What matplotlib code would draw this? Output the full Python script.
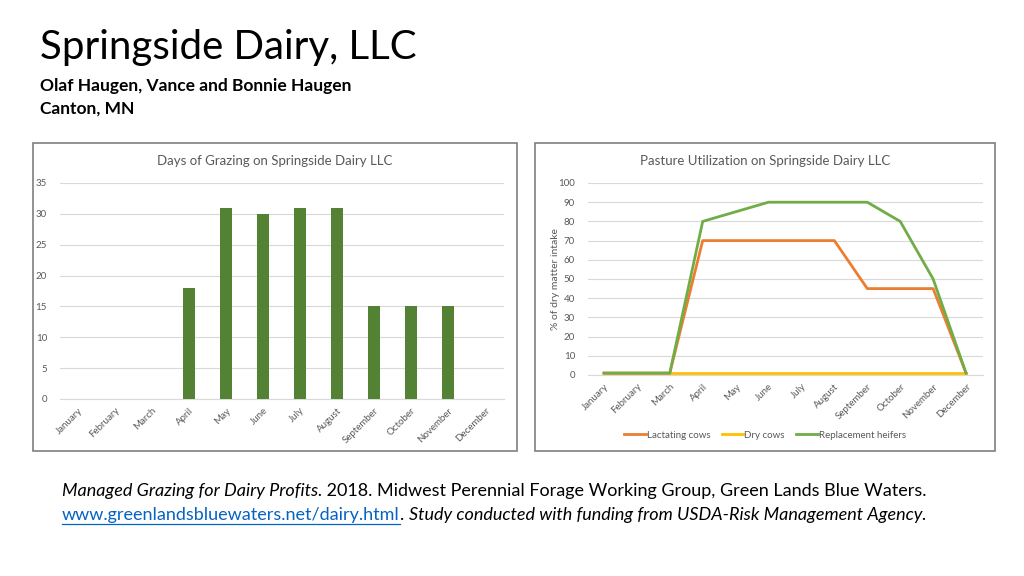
import numpy as np
import matplotlib
matplotlib.use("Agg")
import matplotlib.pyplot as plt
from matplotlib.patches import Rectangle

plt.rcParams['font.family'] = ['Lato', 'DejaVu Sans']

months = ["January", "February", "March", "April", "May", "June", "July",
          "August", "September", "October", "November", "December"]
grazing_days = [0, 0, 0, 18, 31, 30, 31, 31, 15, 15, 15, 0]
lactating = [1, 1, 1, 70, 70, 70, 70, 70, 45, 45, 45, 1]
dry_cows = [1, 1, 1, 1, 1, 1, 1, 1, 1, 1, 1, 1]
heifers = [1, 1, 1, 80, 85, 90, 90, 90, 90, 80, 50, 1]

W, H = 1024, 576
fig = plt.figure(figsize=(W / 100, H / 100), dpi=100)
fig.patch.set_facecolor("white")

def fx(px):
    return px / W

def fy(py):
    return 1 - py / H

# headline text
fig.text(fx(40), fy(47), "Springside Dairy, LLC", fontsize=29, color="black",
         va="center", ha="left")
fig.text(fx(40), fy(86), "Olaf Haugen, Vance and Bonnie Haugen", fontsize=12.5,
         fontweight="bold", va="center")
fig.text(fx(40), fy(109), "Canton, MN", fontsize=12.5, fontweight="bold", va="center")

# panel frames
for x0, x1 in [(33, 517), (535, 995)]:
    fig.patches.append(Rectangle((fx(x0), fy(451)), fx(x1 - x0), (451 - 143) / H,
                                 transform=fig.transFigure, fill=False,
                                 edgecolor="#7f7f7f", linewidth=1.2))

grid_c = "#d9d9d9"
tick_c = "#595959"
x = np.arange(len(months))

# left: bar chart
ax1 = fig.add_axes([fx(59.5), fy(399), fx(503.5 - 59.5), (399 - 183) / H])
ax1.bar(x, grazing_days, width=0.33, color="#548235", zorder=3)
ax1.set_xlim(-0.5, 11.5)
ax1.set_ylim(0, 35)
ax1.set_yticks(range(0, 36, 5))
ax1.yaxis.grid(True, color=grid_c, linewidth=0.8, zorder=0)
ax1.set_xticks(x)
ax1.set_xticklabels(months, rotation=45, ha="right", rotation_mode="anchor")
fig.text(fx(275), fy(161), "Days of Grazing on Springside Dairy LLC", fontsize=9.5,
         color=tick_c, ha="center", va="center")

# right: line chart
ax2 = fig.add_axes([fx(587.5), fy(375), fx(982.5 - 587.5), (375 - 183) / H])
ax2.plot(x, dry_cows, color="#ffc000", linewidth=2, label="Dry cows", zorder=3)
ax2.plot(x, lactating, color="#ed7d31", linewidth=2, label="Lactating cows", zorder=4)
ax2.plot(x, heifers, color="#70ad47", linewidth=2, label="Replacement heifers", zorder=5)
ax2.set_xlim(-0.5, 11.5)
ax2.set_ylim(0, 100)
ax2.set_yticks(range(0, 101, 10))
ax2.yaxis.grid(True, color=grid_c, linewidth=0.8, zorder=0)
ax2.set_xticks(x)
ax2.set_xticklabels(months, rotation=45, ha="right", rotation_mode="anchor")
ax2.set_ylabel("% of dry matter intake", fontsize=7.5, color=tick_c)
ax2.yaxis.set_label_coords((560 - 587.5) / 395, 0.5)
fig.text(fx(765), fy(161), "Pasture Utilization on Springside Dairy LLC", fontsize=9.5,
         color=tick_c, ha="center", va="center")
handles, labels = ax2.get_legend_handles_labels()
order = [1, 0, 2]
fig.legend([handles[i] for i in order], [labels[i] for i in order], loc="center",
           bbox_to_anchor=(fx(765), fy(435)), ncol=3, frameon=False, fontsize=7,
           handlelength=2.2, handletextpad=0.1, columnspacing=1.2, labelcolor=tick_c)

for ax in (ax1, ax2):
    for s in ax.spines.values():
        s.set_visible(False)
    ax.spines["bottom"].set_visible(True)
    ax.spines["bottom"].set_color(grid_c)
    ax.tick_params(length=0, labelsize=7, colors=tick_c, pad=5)
    ax.tick_params(axis="y", pad=9)

# footer, pieces chained one after another
renderer = fig.canvas.get_renderer()

def chain(x0, y, pieces):
    xpos = x0
    for txt, kw in pieces:
        t = fig.text(xpos, y, txt, fontsize=12.95, va="center", **kw)
        bb = t.get_window_extent(renderer=renderer)
        xpos = bb.x1 / W
        if kw.get("color") == "#0563c1":
            fig.lines.append(plt.Line2D([bb.x0 / W, bb.x1 / W], [fy(524), fy(524)],
                                        transform=fig.transFigure,
                                        color="#0563c1", linewidth=0.9))

chain(fx(62), fy(491), [
    ("Managed Grazing for Dairy Profits.", dict(style="italic")),
    (" 2018. Midwest Perennial Forage Working Group, Green Lands Blue Waters.", {}),
])
chain(fx(62), fy(515), [
    ("www.greenlandsbluewaters.net/dairy.html", dict(color="#0563c1")),
    (". ", {}),
    ("Study conducted with funding from USDA-Risk Management Agency.", dict(style="italic")),
])

fig.savefig("out.png", dpi=100)
